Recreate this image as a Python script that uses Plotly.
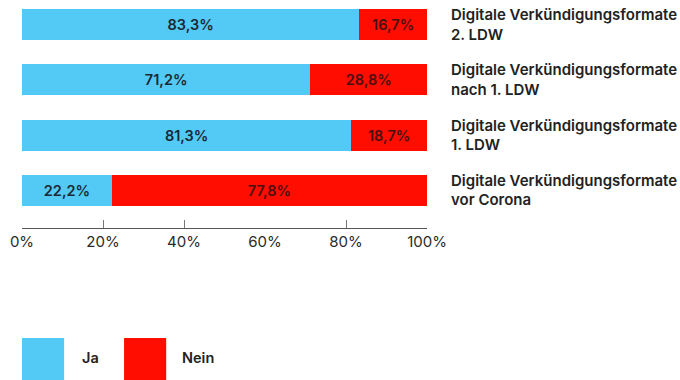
import plotly.graph_objects as go

# Survey categories, listed bottom to top
categories = [
    "Digitale Verkündigungsformate<br>vor Corona",
    "Digitale Verkündigungsformate<br>1. LDW",
    "Digitale Verkündigungsformate<br>nach 1. LDW",
    "Digitale Verkündigungsformate<br>2. LDW",
]
ja_values = [22.2, 81.3, 71.2, 83.3]
nein_values = [77.8, 18.7, 28.8, 16.7]

x_tickvals = [0, 20, 40, 60, 80, 100]
x_ticktext = ["0%", "20%", "40%", "60%", "80%", "100%"]
x_marks = [20, 40, 80]

BLUE = "#52CAF5"
RED = "#FF0D00"
FONT = "Inter"

fig = go.Figure()
fig.add_trace(go.Bar(
    y=categories, x=ja_values, orientation="h", name="Ja",
    marker=dict(color=BLUE, line=dict(width=0)),
    texttemplate="%{x:.1f}%", textposition="inside", insidetextanchor="middle",
    textfont=dict(family=FONT, size=14.5, color="#1d2733", weight=600),
    constraintext="none", showlegend=False,
))
fig.add_trace(go.Bar(
    y=categories, x=nein_values, orientation="h", name="Nein",
    marker=dict(color=RED, line=dict(width=0)),
    texttemplate="%{x:.1f}%", textposition="inside", insidetextanchor="middle",
    textfont=dict(family=FONT, size=14.5, color="#4a1010", weight=600),
    constraintext="none", showlegend=False,
))

fig.update_layout(
    width=680, height=380,
    margin=dict(l=22, r=253, t=0, b=152),
    barmode="stack", bargap=0.44,
    separators=",.",
    plot_bgcolor="white", paper_bgcolor="white",
    font=dict(family=FONT, color="#222222"),
    xaxis=dict(
        range=[0, 100], tickvals=x_tickvals, ticktext=x_ticktext,
        showgrid=False, zeroline=False,
        showline=True, linecolor="#555555", linewidth=1,
        ticks="", tickfont=dict(family=FONT, size=15, color="#2a2a2a"),
        minor=dict(tickvals=x_marks, ticks="inside", ticklen=8,
                   tickcolor="#777777", tickwidth=1, showgrid=False),
        fixedrange=True,
    ),
    yaxis=dict(
        side="right", range=[-0.678, 3.443],
        showgrid=False, zeroline=False, showline=False, ticks="",
        ticklabelstandoff=23,
        tickfont=dict(family=FONT, size=15, color="#222222", weight=600),
    ),
)

# Legend: large colour swatches with labels below the chart
legend_items = [("Ja", BLUE, 0.0, 0.143), ("Nein", RED, 0.252, 0.390)]
for label, color, x0, tx in legend_items:
    fig.add_shape(type="rect", xref="paper", yref="paper",
                  x0=x0, x1=x0 + 0.104, y0=-0.667, y1=-0.482,
                  fillcolor=color, line=dict(width=0))
    fig.add_annotation(text=label, xref="paper", yref="paper",
                       x=tx, y=-0.57, xanchor="left", yanchor="middle",
                       showarrow=False,
                       font=dict(family=FONT, size=14.5, color="#222222", weight=600))

fig.write_html("out.html")
